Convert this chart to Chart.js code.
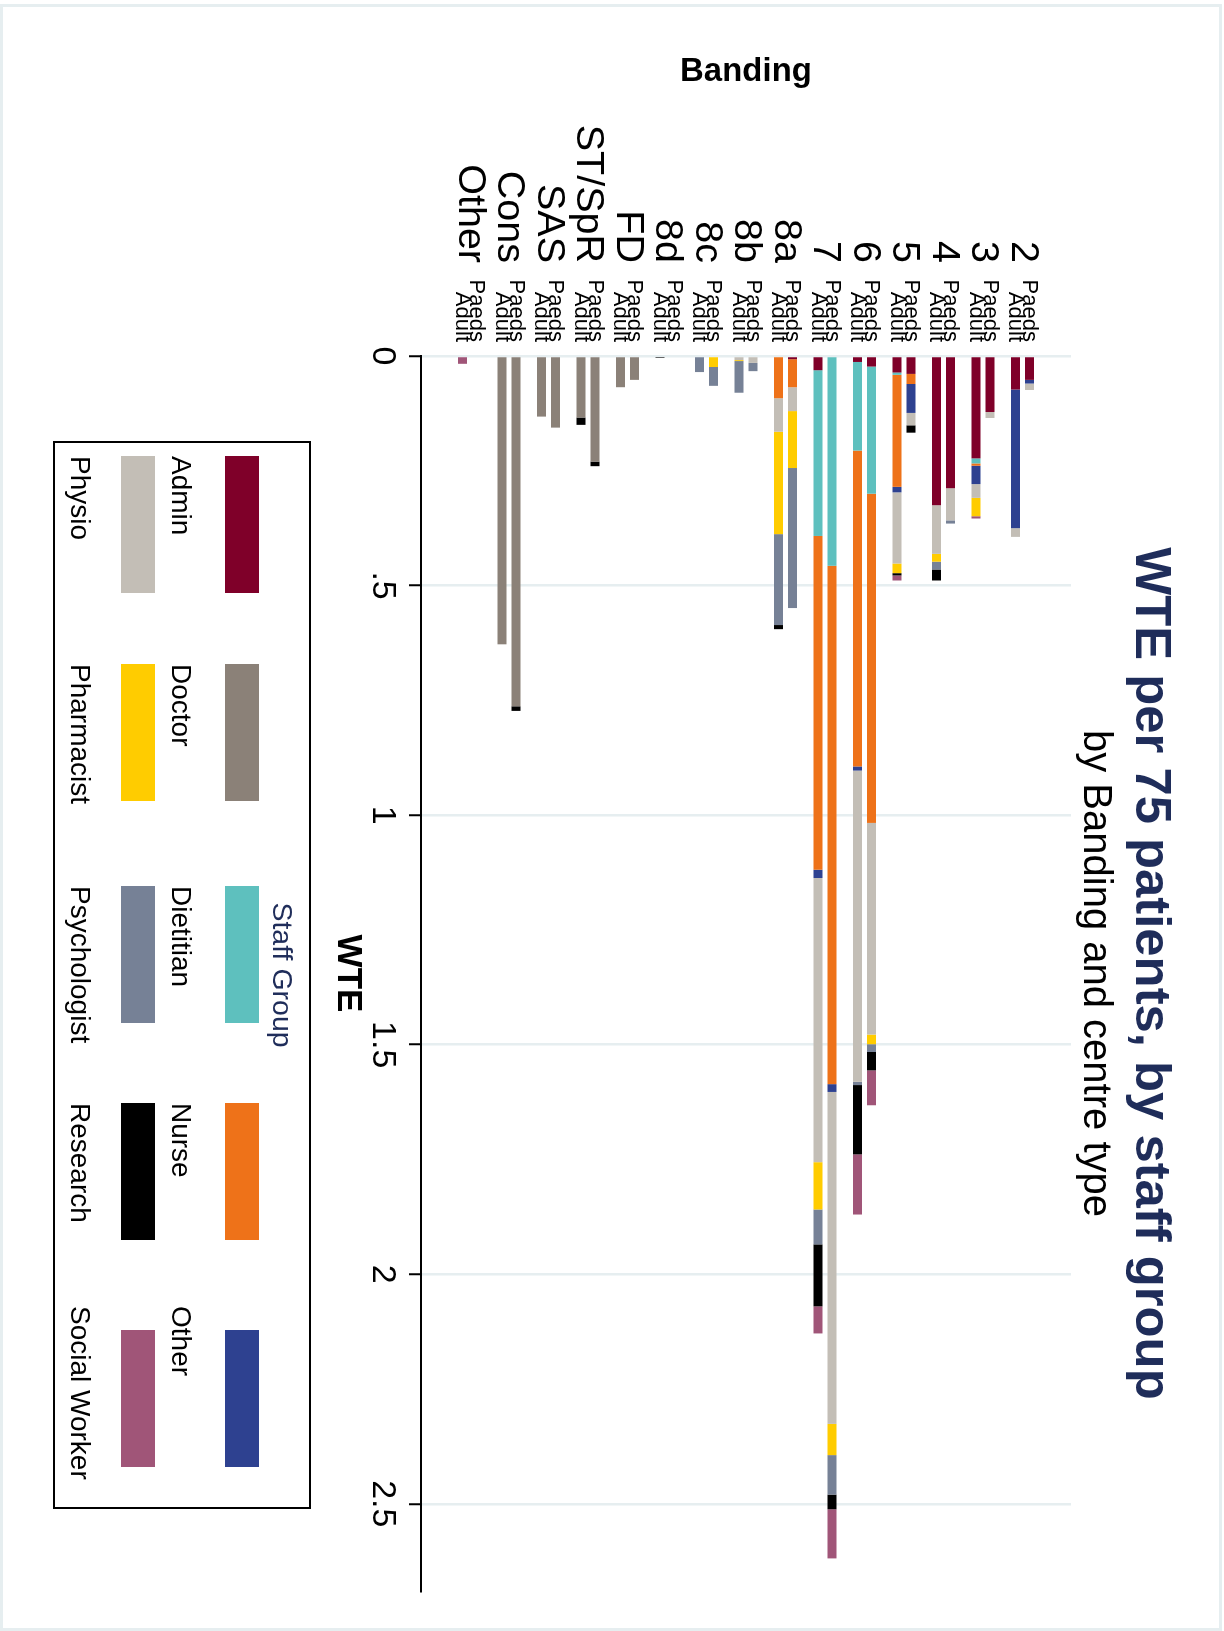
<!DOCTYPE html>
<html>
<head>
<meta charset="utf-8">
<script src="https://cdn.jsdelivr.net/npm/chart.js@4"></script>
<style>
  html, body { margin: 0; padding: 0; background: #fff; }
  body { width: 1224px; height: 1631px; position: relative; overflow: hidden; }
  #bingkai { position: absolute; left: 0; top: 4px; width: 1216px; height: 1621px; border: 3px solid #e6eef0; }
  #putar { position: absolute; left: 0; top: 0; width: 1631px; height: 1224px; transform-origin: 0 0; transform: translateX(1224px) rotate(90deg); }
</style>
</head>
<body>
<div id="bingkai"></div>
<div id="putar"><canvas id="grafikWte" width="1631" height="1224"></canvas></div>
<script>
const bandings = ['2', '3', '4', '5', '6', '7', '8a', '8b', '8c', '8d', 'FD', 'ST/SpR', 'SAS', 'Cons', 'Other'];
const centreTypes = ['Paeds', 'Adult'];
const staffGroups = ['Admin', 'Doctor', 'Dietitian', 'Nurse', 'Other', 'Physio', 'Pharmacist', 'Psychologist', 'Research', 'Social Worker'];
const staffColours = ['#7f0029', '#8b8178', '#5ec0be', '#ee7219', '#2e4190', '#c3beb6', '#ffcc00', '#768196', '#000000', '#a05578'];
const wteTicks = [0, 0.5, 1, 1.5, 2, 2.5];

// WTE per 75 patients, one value per banding (same order as bandings)
const adminPaeds        = [0.052, 0.122, 0.288, 0.039, 0.023, 0,     0.007, 0,     0,     0,     0,     0,     0,     0,     0];
const adminAdult        = [0.073, 0.223, 0.325, 0.036, 0.013, 0.031, 0,     0,     0,     0,     0,     0,     0,     0,     0];
const doctorPaeds       = [0,     0,     0,     0,     0,     0,     0,     0,     0,     0,     0.052, 0.230, 0.156, 0.763, 0];
const doctorAdult       = [0,     0,     0,     0,     0,     0,     0,     0,     0,     0,     0.068, 0.134, 0.132, 0.628, 0];
const dietitianPaeds    = [0,     0,     0,     0,     0.277, 0.457, 0,     0,     0,     0,     0,     0,     0,     0,     0];
const dietitianAdult    = [0,     0.011, 0,     0.005, 0.193, 0.361, 0,     0,     0,     0,     0,     0,     0,     0,     0];
const nursePaeds        = [0,     0,     0,     0.022, 0.717, 1.129, 0.061, 0,     0,     0,     0,     0,     0,     0,     0];
const nurseAdult        = [0,     0.005, 0,     0.244, 0.688, 0.727, 0.092, 0,     0,     0,     0,     0,     0,     0,     0];
const otherPaeds        = [0.008, 0,     0,     0.063, 0,     0.017, 0,     0,     0,     0,     0,     0,     0,     0,     0];
const otherAdult        = [0.302, 0.040, 0,     0.012, 0.009, 0.018, 0,     0,     0,     0,     0,     0,     0,     0,     0];
const physioPaeds       = [0.014, 0.013, 0.070, 0.027, 0.461, 0.723, 0.052, 0.015, 0,     0,     0,     0,     0,     0,     0];
const physioAdult       = [0.019, 0.030, 0.106, 0.155, 0.678, 0.619, 0.073, 0.009, 0,     0,     0,     0,     0,     0,     0];
const pharmacistPaeds   = [0,     0,     0,     0,     0.021, 0.068, 0.124, 0,     0.024, 0,     0,     0,     0,     0,     0];
const pharmacistAdult   = [0,     0.040, 0.017, 0.021, 0,     0.103, 0.223, 0.002, 0,     0,     0,     0,     0,     0,     0];
const psychologistPaeds = [0,     0,     0.007, 0,     0.017, 0.086, 0.305, 0.018, 0.041, 0,     0,     0,     0,     0,     0];
const psychologistAdult = [0,     0,     0.017, 0,     0.007, 0.076, 0.198, 0.069, 0.035, 0,     0,     0,     0,     0,     0];
const researchPaeds     = [0,     0,     0,     0.016, 0.040, 0.032, 0,     0,     0,     0,     0,     0.010, 0,     0.010, 0];
const researchAdult     = [0,     0,     0.024, 0.005, 0.151, 0.135, 0.009, 0,     0,     0.004, 0,     0.016, 0,     0,     0];
const socialPaeds       = [0,     0,     0,     0,     0.076, 0.107, 0,     0,     0,     0,     0,     0,     0,     0,     0];
const socialAdult       = [0,     0.005, 0,     0.011, 0.131, 0.059, 0,     0,     0,     0,     0,     0,     0,     0,     0.017];

const paedsSeries = [adminPaeds, doctorPaeds, dietitianPaeds, nursePaeds, otherPaeds, physioPaeds, pharmacistPaeds, psychologistPaeds, researchPaeds, socialPaeds];
const adultSeries = [adminAdult, doctorAdult, dietitianAdult, nurseAdult, otherAdult, physioAdult, pharmacistAdult, psychologistAdult, researchAdult, socialAdult];

const FONT = "'Liberation Sans', Arial, Helvetica, sans-serif";

const datasets = [];
staffGroups.forEach((group, g) => {
  [paedsSeries[g], adultSeries[g]].forEach((series, k) => {
    datasets.push({
      label: group,
      stack: centreTypes[k],
      data: series.map((v, i) => ({ x: v, y: i })),
      backgroundColor: staffColours[g],
      borderWidth: 0,
      categoryPercentage: 0.709,
      barPercentage: 0.643,
    });
  });
});

// titles, category labels and the Stata-like legend
const labelPlugin = {
  id: 'labelStata',
  afterDraw(chart) {
    const ctx = chart.ctx;
    const area = chart.chartArea;
    const yScale = chart.scales.y;
    const midX = (area.left + area.right) / 2;
    ctx.save();
    ctx.textAlign = 'center';
    ctx.textBaseline = 'alphabetic';
    ctx.fillStyle = '#1f2d5a';
    ctx.font = 'bold 50.8px ' + FONT;
    ctx.fillText('WTE per 75 patients, by staff group', midX, 88);
    ctx.fillStyle = '#000';
    ctx.font = '40px ' + FONT;
    ctx.fillText('by Banding and centre type', midX, 140);
    ctx.font = 'bold 35px ' + FONT;
    ctx.fillText('WTE', midX, 886);

    ctx.save();
    ctx.translate(81, (area.top + area.bottom) / 2);
    ctx.rotate(-Math.PI / 2);
    ctx.font = 'bold 33px ' + FONT;
    ctx.fillText('Banding', 0, 0);
    ctx.restore();

    ctx.textAlign = 'right';
    ctx.textBaseline = 'middle';
    ctx.font = '39.5px ' + FONT;
    bandings.forEach((b, i) => ctx.fillText(b, 263, yScale.getPixelForValue(i)));
    ctx.font = '22px ' + FONT;
    centreTypes.forEach((c, k) => {
      chart.getDatasetMeta(k).data.forEach(bar => ctx.fillText(c, 342, bar.y));
    });

    // legend
    ctx.strokeStyle = '#000';
    ctx.lineWidth = 2;
    ctx.strokeRect(442, 914, 1066, 256);
    ctx.textAlign = 'center';
    ctx.textBaseline = 'alphabetic';
    ctx.fillStyle = '#1f2d5a';
    ctx.font = '28.5px ' + FONT;
    ctx.fillText('Staff Group', 975, 951);
    const colX = [456, 664, 886, 1103, 1330];
    const textX = [456, 664, 886, 1103, 1306];
    const rowY = [965, 1069];
    const textY = [1052, 1153];
    ctx.textAlign = 'left';
    ctx.font = '28px ' + FONT;
    staffGroups.forEach((group, j) => {
      const r = Math.floor(j / 5), c = j % 5;
      ctx.fillStyle = staffColours[j];
      ctx.fillRect(colX[c], rowY[r], 137, 34);
      ctx.fillStyle = '#000';
      ctx.fillText(group, textX[c], textY[r]);
    });
    ctx.restore();
  }
};

const config = {
  type: 'bar',
  data: { datasets: datasets },
  options: {
    indexAxis: 'y',
    responsive: false,
    animation: false,
    devicePixelRatio: 1,
    layout: { padding: { left: 356, right: 40, top: 153, bottom: 361 } },
    scales: {
      x: {
        type: 'linear',
        stacked: true,
        bounds: 'data',
        min: 0,
        max: 2.69,
        afterBuildTicks: s => { s.ticks = wteTicks.map(v => ({ value: v })); },
        afterFit: s => { s.height = 60; },
        ticks: {
          color: '#000',
          padding: 6,
          font: { family: FONT, size: 34 },
          callback: v => String(v).replace(/^0\./, '.'),
        },
        grid: { color: '#e6eef0', lineWidth: 2.5, tickColor: '#000', tickLength: 12, tickWidth: 2 },
        border: { color: '#000', width: 2 },
      },
      y: {
        type: 'linear',
        stacked: true,
        reverse: true,
        display: false,
        offset: false,
        bounds: 'data',
        min: -1.228,
        max: 15.228,
        ticks: { stepSize: 1 },
        grid: { offset: false },
        afterBuildTicks: s => { s.ticks = bandings.map((b, i) => ({ value: i })); },
      }
    },
    plugins: {
      legend: { display: false },
      tooltip: { enabled: false },
    }
  },
  plugins: [labelPlugin],
};

// render init block
const grafik = new Chart(document.getElementById('grafikWte'), config);
</script>
</body>
</html>
